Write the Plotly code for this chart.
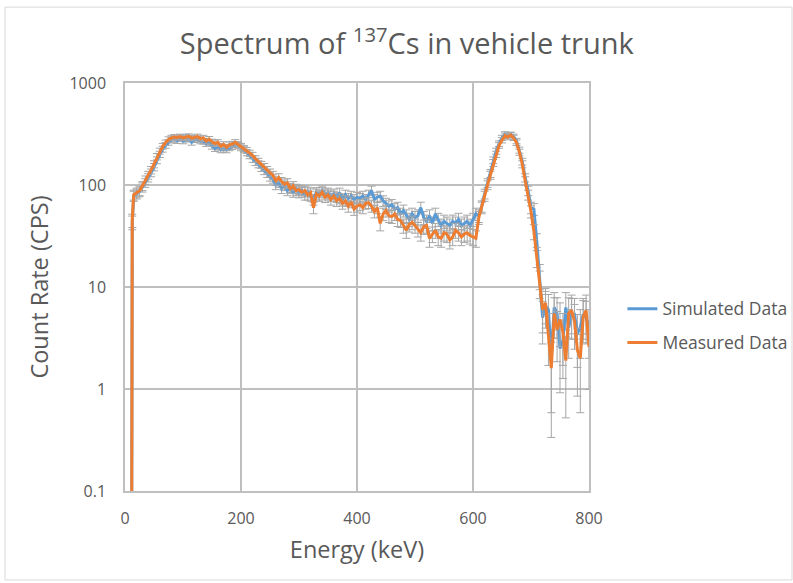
import plotly.graph_objects as go

# Energy (keV)
energy = [11, 12.5] + list(range(15, 801, 5))

# Measured data (CPS)
measured = [0.001, 45,
    80, 84, 88, 98, 112, 125, 140, 160, 190, 215, 240, 260, 280, 290, 295, 292, 298, 290,
    296, 300, 288, 292, 298, 285, 290, 270, 282, 265, 255, 262, 240, 250, 235, 248, 252, 262,
    250, 240, 228, 218, 205, 195, 180, 170, 158, 150, 140, 132, 125, 110, 118, 108, 102, 105,
    92, 98, 88, 90, 85, 88, 80, 84, 60, 82, 78, 85, 76, 80, 72, 78, 70, 74, 66, 70, 62, 68,
    58, 62, 64, 60, 66, 67, 62, 55, 60, 42, 52, 56, 50, 49, 52, 46, 45, 40, 36, 41, 43, 40,
    37, 34, 39, 40, 30, 33, 36, 31, 30, 34, 33, 29, 31, 36, 34, 31, 33, 34, 32, 31, 30, 48,
    60, 78, 100, 125, 165, 200, 245, 275, 305, 295, 310, 290, 260, 210, 160, 110, 80, 55, 35,
    20, 11, 6, 7, 3.6, 1.6, 5.5, 3.8, 4.8, 3.6, 1.9, 5.5, 5.9, 4.6, 2.4, 2.0, 5.1, 5.9, 2.6]

# Simulated data (CPS)
simulated = [0.001, 43,
    78, 82, 86, 95, 105, 118, 132, 150, 175, 200, 225, 245, 262, 275, 280, 272, 285, 270,
    280, 285, 262, 278, 280, 270, 268, 255, 262, 240, 228, 235, 222, 225, 222, 232, 238, 248,
    245, 232, 222, 208, 195, 180, 168, 160, 148, 138, 130, 120, 115, 100, 105, 92, 98, 88,
    94, 85, 92, 84, 88, 80, 86, 78, 72, 85, 80, 88, 82, 84, 78, 82, 76, 84, 72, 80, 74, 78,
    72, 76, 74, 78, 72, 80, 88, 72, 76, 78, 70, 66, 62, 64, 58, 60, 52, 56, 50, 46, 52, 48,
    50, 60, 48, 44, 50, 42, 52, 46, 40, 44, 42, 40, 44, 42, 46, 40, 42, 44, 40, 46, 52, 50,
    62, 82, 105, 130, 175, 215, 255, 290, 315, 305, 312, 298, 270, 220, 170, 118, 88, 60, 58,
    28, 13, 5, 6.5, 6, 2.0, 6.3, 5.5, 2.5, 3.0, 6.3, 4.0, 5.4, 5.4, 3.5, 4.0, 5.4, 5.0, 4.0]

x_ticks = [0, 200, 400, 600, 800]
y_ticks = [0.1, 1, 10, 100, 1000]
y_tick_labels = ["0.1", "1", "10", "100", "1000"]

FONT = "Open Sans"
TXT = "#595959"
GRID = "#BFBFBF"

err = dict(type="sqrt", visible=True, color="#A6A6A6", thickness=1, width=4)

fig = go.Figure()
fig.add_trace(go.Scatter(x=energy, y=simulated, mode="lines", name="Simulated Data",
                         line=dict(color="#5B9BD5", width=3), error_y=err, legendgroup="a"))
fig.add_trace(go.Scatter(x=energy, y=measured, mode="lines", name="Measured Data",
                         line=dict(color="#ED7D31", width=3), error_y=err, legendgroup="b"))

fig.update_layout(
    width=793, height=583,
    margin=dict(l=125, r=204, t=83, b=92, autoexpand=False),
    paper_bgcolor="white", plot_bgcolor="white",
    font=dict(family=FONT, color=TXT, size=16),
    title=dict(text="Spectrum of <sup>137</sup>Cs in vehicle trunk", x=0.513, xanchor="center",
               y=0.925, yanchor="middle", font=dict(size=29, color=TXT, family=FONT)),
    legend=dict(x=1.072, y=0.405, xanchor="left", yanchor="middle", tracegroupgap=8,
                font=dict(size=17.5, color=TXT, family=FONT), bgcolor="rgba(0,0,0,0)"),
    showlegend=True,
)
fig.update_xaxes(range=[0, 800], tickvals=x_ticks, showgrid=True, gridcolor=GRID, gridwidth=1.5,
                 showline=True, linecolor=GRID, linewidth=1.5, mirror=True, zeroline=False,
                 ticks="", ticklabelstandoff=12,
                 title=dict(text="Energy (keV)", font=dict(size=23.5, color=TXT, family=FONT), standoff=14))
fig.update_yaxes(type="log", range=[-1, 3], tickvals=y_ticks, ticktext=y_tick_labels, showgrid=True,
                 gridcolor=GRID, gridwidth=1.5, showline=True, linecolor=GRID, linewidth=1.5,
                 mirror=True, zeroline=False, ticks="", ticklabelstandoff=14,
                 title=dict(text="Count Rate (CPS)", font=dict(size=23.5, color=TXT, family=FONT), standoff=14))

# outer chart border
fig.add_shape(type="rect", xref="paper", yref="paper", x0=-0.2586, x1=1.4375, y0=-0.218, y1=1.186,
              line=dict(color="#D9D9D9", width=1), fillcolor="rgba(0,0,0,0)", layer="below")

fig.write_html("out.html")
